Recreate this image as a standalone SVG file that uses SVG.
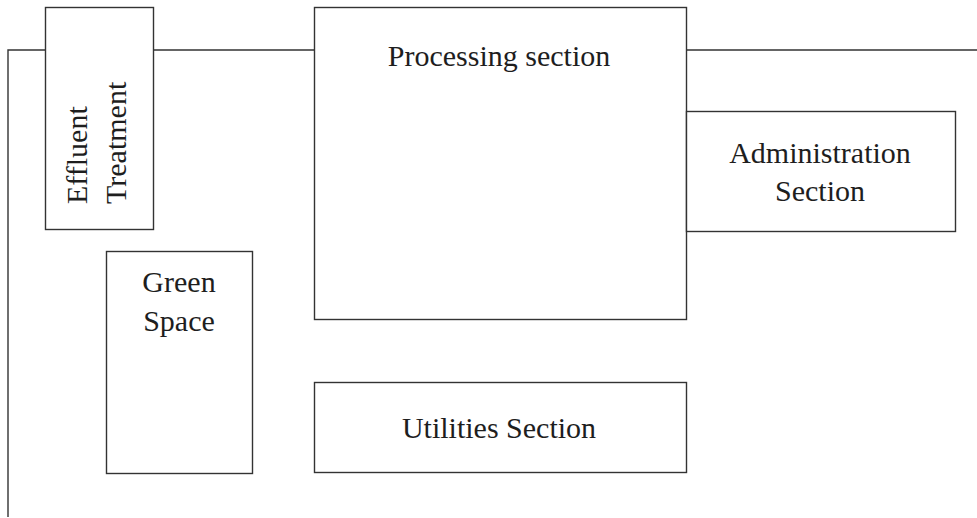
<svg xmlns="http://www.w3.org/2000/svg" width="977" height="518" viewBox="0 0 977 518">
  <style>
    .box { fill: #ffffff; stroke: #333333; stroke-width: 1.4; }
    .edge { fill: none; stroke: #333333; stroke-width: 1.4; }
    .lbl { font-family: "Liberation Serif", "Times New Roman", serif; font-size: 30px; fill: #1e1e1e; }
    .mid { text-anchor: middle; }
  </style>
  <rect width="977" height="518" fill="#ffffff"/>

  <!-- site boundary -->
  <g id="connectors">
    <path class="edge" d="M8,517 V50 H977"/>
  </g>

  <g id="effluent">
    <rect class="box" x="45.5" y="7.5" width="108" height="222"/>
    <g transform="rotate(-90)">
      <text class="lbl" x="-204" y="87" font-size="28">Effluent</text>
      <text class="lbl" x="-204" y="126" font-size="28">Treatment</text>
    </g>
  </g>

  <g id="processing">
    <rect class="box" x="314.5" y="7.5" width="372" height="312"/>
    <text class="lbl mid" x="499" y="66">Processing section</text>
  </g>

  <g id="administration">
    <rect class="box" x="686.5" y="111.5" width="269" height="120"/>
    <text class="lbl mid" x="820" y="163">Administration</text>
    <text class="lbl mid" x="820" y="201">Section</text>
  </g>

  <g id="green-space">
    <rect class="box" x="106.5" y="251.5" width="146" height="222"/>
    <text class="lbl mid" x="179" y="292">Green</text>
    <text class="lbl mid" x="179" y="331">Space</text>
  </g>

  <g id="utilities">
    <rect class="box" x="314.5" y="382.5" width="372" height="90"/>
    <text class="lbl mid" x="499" y="438">Utilities Section</text>
  </g>
</svg>
